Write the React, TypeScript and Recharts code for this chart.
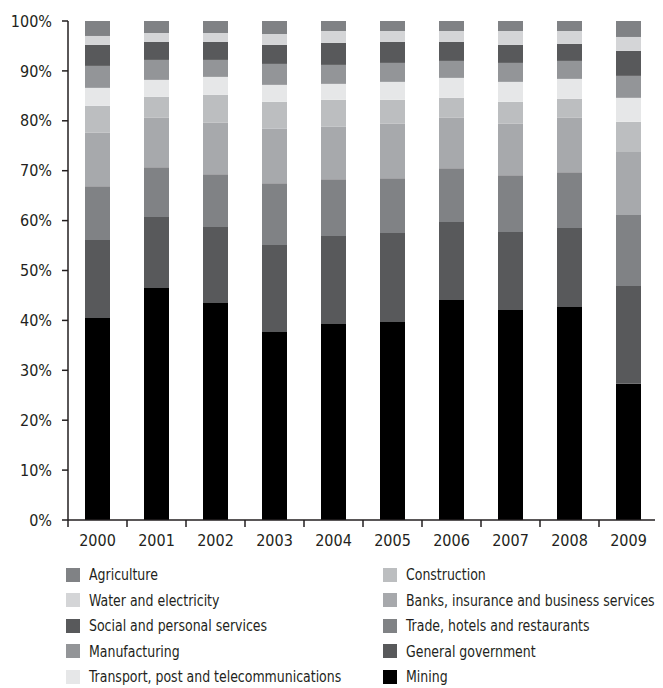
import { BarChart, Bar, XAxis, YAxis } from 'recharts'

const YEARS = ['2000', '2001', '2002', '2003', '2004', '2005', '2006', '2007', '2008', '2009']

// shares in %, bottom of the stack first
const MINING = [40.5, 46.5, 43.5, 37.7, 39.3, 39.7, 44.1, 42.1, 42.7, 27.3]
const GENERAL_GOVERNMENT = [15.6, 14.2, 15.2, 17.4, 17.6, 17.8, 15.6, 15.6, 15.8, 19.6]
const TRADE = [10.8, 10.0, 10.6, 12.4, 11.4, 11.0, 10.8, 11.4, 11.2, 14.2]
const BANKS = [10.7, 9.9, 10.3, 10.9, 10.5, 10.9, 10.1, 10.3, 10.9, 12.8]
const CONSTRUCTION = [5.4, 4.2, 5.6, 5.4, 5.4, 4.8, 4.0, 4.4, 3.8, 5.9]
const TRANSPORT = [3.6, 3.4, 3.6, 3.4, 3.2, 3.6, 4.0, 4.0, 4.0, 4.8]
const MANUFACTURING = [4.4, 4.0, 3.4, 4.2, 3.8, 3.8, 3.4, 3.8, 3.6, 4.4]
const SOCIAL = [4.2, 3.6, 3.6, 3.8, 4.4, 4.2, 3.8, 3.6, 3.4, 5.0]
const WATER = [1.8, 1.8, 1.8, 2.2, 2.4, 2.2, 2.2, 2.8, 2.6, 2.8]
const AGRICULTURE = [3.0, 2.4, 2.4, 2.6, 2.0, 2.0, 2.0, 2.0, 2.0, 3.2]

const Y_TICKS = [0, 10, 20, 30, 40, 50, 60, 70, 80, 90, 100]

const SERIES = [
  { key: 'mining', name: 'Mining', values: MINING, color: '#000000' },
  { key: 'gov', name: 'General government', values: GENERAL_GOVERNMENT, color: '#58595b' },
  { key: 'trade', name: 'Trade, hotels and restaurants', values: TRADE, color: '#808285' },
  { key: 'banks', name: 'Banks, insurance and business services', values: BANKS, color: '#a7a9ac' },
  { key: 'construction', name: 'Construction', values: CONSTRUCTION, color: '#bcbec0' },
  { key: 'transport', name: 'Transport, post and telecommunications', values: TRANSPORT, color: '#e6e7e8' },
  { key: 'manufacturing', name: 'Manufacturing', values: MANUFACTURING, color: '#939598' },
  { key: 'social', name: 'Social and personal services', values: SOCIAL, color: '#58595b' },
  { key: 'water', name: 'Water and electricity', values: WATER, color: '#d4d5d7' },
  { key: 'agriculture', name: 'Agriculture', values: AGRICULTURE, color: '#808285' },
]

// legend reads row by row: left column, right column
const LEGEND_ORDER = ['agriculture', 'construction', 'water', 'banks', 'social', 'trade', 'manufacturing', 'gov', 'transport', 'mining']

const data = YEARS.map((year, i) => {
  const row: any = { year }
  SERIES.forEach(s => { row[s.key] = s.values[i] })
  return row
})

const INK = '#231f20'
const FONT = "'DejaVu Sans Condensed', 'Liberation Sans Narrow', sans-serif"
const BAND = 59

const XTick = (props: any) => {
  const { x, y, payload, index } = props
  return (
    <g>
      <line x1={x - BAND / 2} y1={y} x2={x - BAND / 2} y2={y + 7} stroke={INK} strokeWidth={1.5} />
      {index === YEARS.length - 1 && (
        <line x1={x + BAND / 2} y1={y} x2={x + BAND / 2} y2={y + 7} stroke={INK} strokeWidth={1.5} />
      )}
      <text x={x} y={y + 26} textAnchor="middle" fill={INK} fontSize={16}>{payload.value}</text>
    </g>
  )
}

export default function App() {
  return (
    <div style={{ fontFamily: FONT, color: INK, width: 655 }}>
      <BarChart width={655} height={542} data={data} margin={{ top: 13, right: 5, left: 0, bottom: 0 }}>
        <XAxis
          dataKey="year"
          height={30}
          tickSize={0}
          tickMargin={0}
          tickLine={false}
          axisLine={{ stroke: INK, strokeWidth: 1.5 }}
          tick={<XTick />}
          interval={0}
        />
        <YAxis
          width={60}
          domain={[0, 100]}
          ticks={Y_TICKS}
          tickFormatter={v => `${v}%`}
          tickSize={6}
          tickMargin={10}
          tickLine={{ stroke: INK, strokeWidth: 1.5 }}
          axisLine={{ stroke: INK, strokeWidth: 1.5 }}
          tick={{ fill: INK, fontSize: 16, fontFamily: FONT }}
          allowDataOverflow
        />
        {SERIES.map(s => (
          <Bar key={s.key} dataKey={s.key} name={s.name} stackId="a" fill={s.color} barSize={25} isAnimationActive={false} />
        ))}
      </BarChart>
      <div style={{ display: 'grid', gridTemplateColumns: '317px 280px', marginLeft: 58, marginTop: 12 }}>
        {LEGEND_ORDER.map(k => {
          const s = SERIES.find(x => x.key === k)!
          return (
            <div key={k} style={{ display: 'flex', alignItems: 'center', height: 25.5, fontSize: 16, whiteSpace: 'nowrap' }}>
              <span style={{ width: 14, height: 14, background: s.color, marginRight: 9, flexShrink: 0 }} />
              <span style={{ display: 'inline-block', transform: 'scaleX(0.87)', transformOrigin: 'left center' }}>{s.name}</span>
            </div>
          )
        })}
      </div>
    </div>
  )
}
